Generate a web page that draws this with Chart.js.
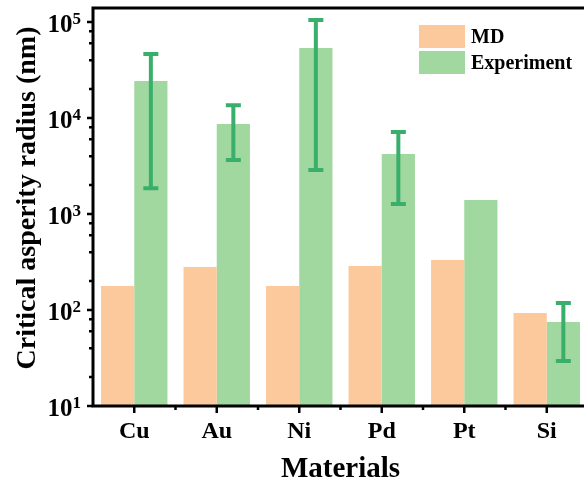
<!DOCTYPE html>
<html>
<head>
<meta charset="utf-8">
<script src="https://cdn.jsdelivr.net/npm/chart.js@4"></script>
<style>
  html, body { margin: 0; padding: 0; overflow: hidden; background: #fff; }
  #wrap { position: relative; width: 590px; height: 481px; }
</style>
</head>
<body>
<div id="wrap"><canvas id="chart"></canvas></div>
<script>
const materials = ["Cu", "Au", "Ni", "Pd", "Pt", "Si"];
const mdValues = [178, 281, 178, 287, 331, 93];
const expValues = [24300, 8660, 53600, 4220, 1400, 75];
const expLow = [1860, 3650, 2870, 1270, null, 29.4];
const expHigh = [46400, 13600, 105000, 7150, null, 118];
const yMajorTicks = [10, 100, 1000, 10000, 100000];
const yMinorFactors = [2, 4, 6, 8];

const SERIF = "'Liberation Serif', 'Times New Roman', serif";
const MD_COLOR = "#fbc99b";
const EXP_COLOR = "#a0d89f";
const ERR_COLOR = "#3aae6b";

// axes, error bars, labels and legend are painted by hand
const decorations = {
  id: "decorations",
  afterDatasetsDraw(chart) {
    const { ctx, scales } = chart;
    const y = scales.y;

    // error bars on the experiment series
    const meta = chart.getDatasetMeta(1);
    ctx.save();
    ctx.strokeStyle = ERR_COLOR;
    ctx.lineWidth = 4;
    meta.data.forEach((bar, i) => {
      if (expLow[i] == null) return;
      const cx = bar.x;
      const top = y.getPixelForValue(expHigh[i]);
      const bot = y.getPixelForValue(expLow[i]);
      ctx.beginPath();
      ctx.moveTo(cx, top);
      ctx.lineTo(cx, bot);
      ctx.moveTo(cx - 7.5, top);
      ctx.lineTo(cx + 7.5, top);
      ctx.moveTo(cx - 7.5, bot);
      ctx.lineTo(cx + 7.5, bot);
      ctx.stroke();
    });
    ctx.restore();
  },
  afterDraw(chart) {
    const { ctx, chartArea: a, scales } = chart;
    const x = scales.x, y = scales.y;
    ctx.save();
    ctx.strokeStyle = "#000";
    ctx.fillStyle = "#000";
    ctx.lineWidth = 3;

    // frame
    ctx.strokeRect(a.left, a.top, a.right - a.left, a.bottom - a.top);

    // y ticks
    ctx.lineWidth = 2.5;
    ctx.beginPath();
    yMajorTicks.forEach(v => {
      const py = y.getPixelForValue(v);
      ctx.moveTo(a.left - 6, py);
      ctx.lineTo(a.left, py);
      yMinorFactors.forEach(f => {
        const mv = v * f;
        if (mv > y.max) return;
        const my = y.getPixelForValue(mv);
        ctx.moveTo(a.left - 4, my);
        ctx.lineTo(a.left, my);
      });
    });
    // x ticks: major at categories, minor between them
    const half = (x.getPixelForValue(1) - x.getPixelForValue(0)) / 2;
    materials.forEach((m, i) => {
      const px = x.getPixelForValue(i);
      ctx.moveTo(px, a.bottom);
      ctx.lineTo(px, a.bottom + 7);
      ctx.moveTo(px + half, a.bottom);
      ctx.lineTo(px + half, a.bottom + 4);
    });
    ctx.stroke();

    // y tick labels as 10 with superscript exponent
    yMajorTicks.forEach(v => {
      const py = y.getPixelForValue(v);
      const exp = String(Math.round(Math.log10(v)));
      ctx.font = "bold 17px " + SERIF;
      ctx.textAlign = "left";
      ctx.textBaseline = "alphabetic";
      const ew = ctx.measureText(exp).width;
      const right = a.left - 12;
      ctx.fillText(exp, right - ew, py + 2);
      ctx.font = "bold 25px " + SERIF;
      ctx.textAlign = "right";
      ctx.fillText("10", right - ew, py + 10);
    });

    // category labels
    ctx.font = "bold 24px " + SERIF;
    ctx.textAlign = "center";
    materials.forEach((m, i) => {
      ctx.fillText(m, x.getPixelForValue(i), 438);
    });

    // axis titles
    ctx.font = "bold 29px " + SERIF;
    ctx.fillText("Materials", (a.left + a.right) / 2, 477);
    ctx.save();
    ctx.font = "bold 28px " + SERIF;
    ctx.translate(35, 198);
    ctx.rotate(-Math.PI / 2);
    ctx.fillText("Critical asperity radius (nm)", 0, 0);
    ctx.restore();

    // legend
    ctx.font = "bold 20px " + SERIF;
    ctx.textAlign = "left";
    chart.data.datasets.forEach((ds, i) => {
      const top = 25 + i * 26;
      ctx.fillStyle = ds.backgroundColor;
      ctx.fillRect(419, top, 46, 23);
      ctx.fillStyle = "#000";
      ctx.fillText(ds.label, 471, top + 18);
    });
    ctx.restore();
  }
};

new Chart(document.getElementById("chart"), {
  type: "bar",
  data: {
    labels: materials,
    datasets: [
      { label: "MD", data: mdValues, backgroundColor: MD_COLOR,
        barPercentage: 1, categoryPercentage: 0.805 },
      { label: "Experiment", data: expValues, backgroundColor: EXP_COLOR,
        barPercentage: 1, categoryPercentage: 0.805 }
    ]
  },
  options: {
    responsive: true,
    maintainAspectRatio: false,
    animation: false,
    layout: { padding: { left: 93, right: 2, top: 8, bottom: 75 } },
    plugins: { legend: { display: false }, tooltip: { enabled: false } },
    scales: {
      x: { display: false, offset: true },
      y: { type: "logarithmic", display: false, min: 10, max: 140000 }
    }
  },
  plugins: [decorations]
});
</script>
</body>
</html>
